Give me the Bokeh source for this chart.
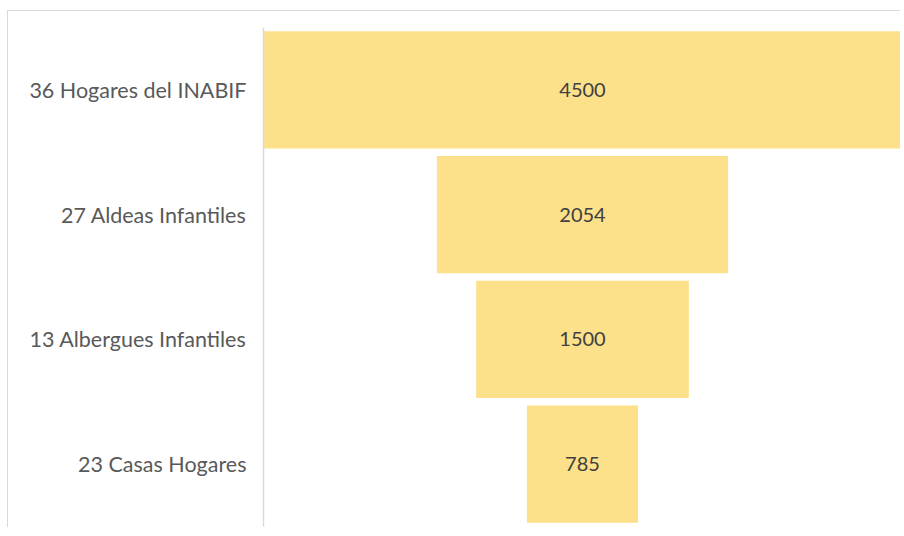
from bokeh.plotting import figure
from bokeh.models import Range1d, FactorRange, ColumnDataSource
from bokeh.core.properties import value
from bokeh.embed import file_html
from bokeh.resources import INLINE

categories = ["36 Hogares del INABIF", "27 Aldeas Infantiles", "13 Albergues Infantiles", "23 Casas Hogares"]
values = [4500, 2054, 1500, 785]

half_max = max(values) / 2.0
src = ColumnDataSource(dict(
    cat=categories,
    left=[-v / 2.0 for v in values],
    right=[v / 2.0 for v in values],
    mid=[0 for v in values],
    label=[str(v) for v in values],
))

p = figure(
    width=893, height=517,
    y_range=FactorRange(factors=list(reversed(categories)), range_padding=0),
    x_range=Range1d(-half_max, half_max),
    output_backend="svg", toolbar_location=None,
    min_border_left=255, min_border_right=0, min_border_top=16, min_border_bottom=2,
)
p.styles = {"margin-left": "7px", "margin-top": "10px",
            "border-top": "1px solid #d9d9d9", "border-left": "1px solid #d9d9d9"}

p.hbar(y="cat", left="left", right="right", height=0.94, source=src,
       fill_color="#FCE08A", line_color=None)
p.text(x="mid", y="cat", text="label", source=src,
       text_align="center", text_baseline="middle",
       text_font=value("Lato"), text_font_size="20px", text_color="#404040")

p.xaxis.visible = False
p.xgrid.visible = False
p.ygrid.visible = False
p.outline_line_color = None
p.background_fill_color = "white"
p.border_fill_color = "white"

ya = p.yaxis[0]
ya.major_tick_line_color = None
ya.minor_tick_line_color = None
ya.axis_line_color = "#d9d9d9"
ya.axis_line_width = 1.5
ya.major_label_text_font = "Lato"
ya.major_label_text_font_size = "21.5px"
ya.major_label_text_color = "#595959"
ya.major_label_standoff = 11

open("out.html", "w").write(file_html(p, INLINE))
